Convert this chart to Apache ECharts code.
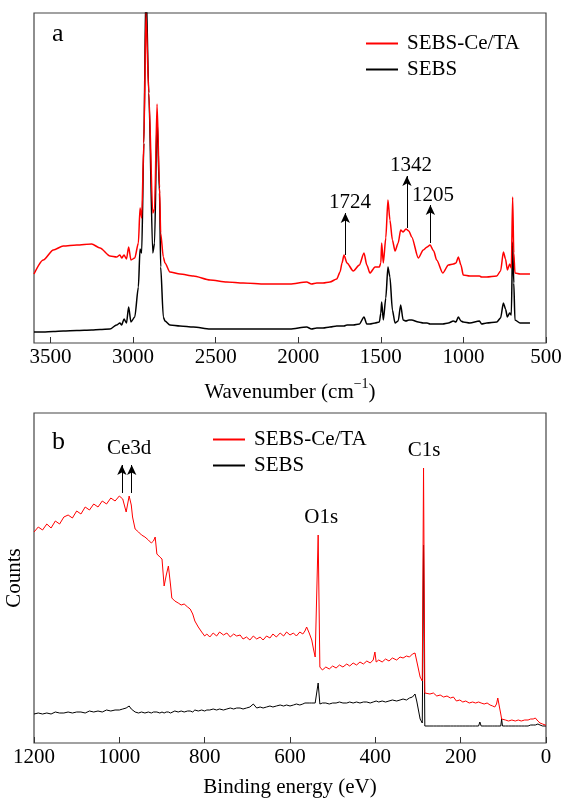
<!DOCTYPE html>
<html>
<head>
<meta charset="utf-8">
<script src="https://cdn.jsdelivr.net/npm/echarts@6/dist/echarts.min.js"></script>
<style>
  html, body { margin: 0; padding: 0; background: #fff; }
  #chart { width: 561px; height: 798px; }
</style>
</head>
<body>
<div id="chart"></div>
<script>
// ---- (a) FTIR, wavenumber grid shared by both curves (arbitrary absorbance units)
var ftirWn = [
  3600, 3544, 3483, 3423, 3341, 3251, 3200, 3140, 3100, 3080,
  3069, 3055, 3040, 3027, 3013, 2990, 2968, 2958, 2948, 2935,
  2922, 2905, 2881, 2870, 2855, 2840, 2833, 2817, 2807, 2777,
  2716, 2635, 2534, 2433, 2333, 2200, 2050, 1949, 1920, 1888,
  1850, 1808, 1767, 1747, 1735, 1723, 1705, 1667, 1630, 1602,
  1585, 1566, 1535, 1509, 1500, 1495, 1485, 1470, 1457, 1445,
  1430, 1414, 1395, 1380, 1365, 1348, 1330, 1313, 1273, 1243,
  1220, 1202, 1180, 1162, 1125, 1091, 1061, 1045, 1031, 1015,
  1001, 961, 903, 890, 859, 798, 775, 758, 745, 734,
  720, 710, 702, 695, 688, 657, 597
]
var ftirCeTA = [
  69, 83, 93, 97, 98, 99, 95, 87, 86, 88,
  85, 88, 84, 96, 83, 85, 100, 135, 125, 200,
  330, 250, 130, 134, 239, 156, 110, 86, 80, 71,
  69, 67, 63, 61, 60, 59, 59, 61, 59, 60,
  60, 61, 64, 71, 80, 88, 80, 72, 78, 90,
  78, 70, 76, 76, 80, 100, 80, 105, 143, 123,
  103, 92, 100, 113, 111, 114, 112, 106, 85, 93,
  96, 98, 92, 83, 70, 78, 79, 80, 86, 78,
  68, 67, 67, 66, 66, 67, 72, 91, 84, 73,
  79, 75, 146, 90, 70, 69, 69
]
var ftirSEBS = [
  11, 11, 11.5, 12, 12.5, 13, 13.5, 14, 18, 20,
  18, 24, 20, 36, 21, 26, 56, 94, 90, 200,
  360, 250, 90, 100, 225, 150, 76, 26, 22, 18,
  17, 16, 14, 14, 14, 14, 14, 16, 14, 15,
  15, 16, 17, 17, 17, 17, 18, 18, 19, 26,
  19, 19, 20, 21, 30, 41, 23, 45, 76, 66,
  33, 20, 22, 38, 23, 22, 23, 23, 21, 20,
  20, 19, 19, 19, 19, 20, 22, 21, 26, 22,
  21, 20, 22, 19, 20, 21, 25, 40, 34, 26,
  30, 28, 101, 60, 23, 20, 20
]
// arrows: [wavenumber, from, to]; labels: [text, wavenumber, height]
var ftirArrows = [[1715, 88, 130], [1342, 115, 167], [1200, 100, 138]]
var ftirLabels = [['1724', 1687, 141], ['1342', 1317, 178], ['1205', 1184, 148]]

// ---- (b) XPS survey, binding energy grid shared by both curves
var xpsBE = [
  1200, 1190, 1180, 1170, 1160, 1150, 1140, 1130, 1120, 1110,
  1100, 1090, 1080, 1070, 1060, 1050, 1040, 1030, 1020, 1010,
  1000, 992, 984, 977, 972, 969, 963, 955, 948, 940,
  932, 925, 920, 916, 912, 905, 900, 895, 890, 885,
  880, 877, 870, 862, 855, 848, 840, 834, 828, 823,
  815, 807, 800, 795, 788, 780, 772, 765, 756, 748,
  740, 732, 725, 717, 710, 702, 694, 686, 678, 670,
  663, 655, 647, 640, 632, 623, 615, 608, 600, 592,
  585, 577, 570, 565, 561, 555, 549, 545, 541, 537,
  534, 530, 524, 516, 508, 500, 492, 484, 476, 467,
  460, 452, 444, 436, 428, 420, 412, 405, 401, 398,
  392, 384, 376, 368, 360, 350, 342, 335, 327, 320,
  313, 307, 303, 299, 295, 290, 287, 284, 280, 272,
  264, 256, 248, 240, 232, 224, 217, 210, 202, 195,
  188, 180, 172, 165, 158, 155, 152, 145, 138, 131,
  125, 120, 116, 113, 110, 106, 104, 102, 95, 88,
  80, 72, 65, 58, 50, 42, 36, 30, 25, 22,
  19, 14, 8, 2, 0
]
var xpsCeTA = [
  211, 216, 213, 219, 215, 222, 219, 226, 228, 225,
  232, 229, 236, 233, 239, 236, 242, 239, 245, 242,
  247, 244, 231, 247, 238, 226, 214, 211, 208, 206,
  203, 200, 202, 206, 189, 186, 184, 157, 168, 177,
  158, 145, 142, 140, 138, 139, 136, 134, 129, 122,
  116, 111, 107, 109, 106, 110, 107, 111, 108, 110,
  106, 109, 107, 108, 104, 106, 103, 107, 104, 106,
  103, 107, 105, 109, 106, 110, 107, 111, 108, 110,
  107, 111, 109, 112, 116, 110, 103, 94, 86, 84,
  208, 76, 73, 76, 74, 77, 75, 78, 76, 79,
  77, 80, 78, 81, 79, 82, 80, 83, 91, 81,
  83, 81, 84, 82, 85, 83, 86, 85, 87, 86,
  89, 90, 82, 74, 66, 62, 275, 50, 51, 49,
  50, 47, 48, 46, 47, 45, 46, 42, 43, 41,
  42, 40, 41, 40, 41, 39, 40, 39, 40, 38,
  37, 36, 39, 45, 38, 29, 24, 23, 23, 22,
  23, 22, 23, 22, 23, 23, 24, 24, 25, 26,
  22, 20, 19, 18, 18
]
var xpsSEBS = [
  29, 30, 29, 30, 29, 31, 30, 30, 31, 30,
  31, 31, 30, 32, 31, 32, 31, 33, 32, 33,
  33, 34, 35, 37, 34, 32, 31, 30, 31, 30,
  31, 30, 31, 30, 31, 30, 31, 30, 31, 31,
  30, 31, 32, 31, 32, 31, 32, 32, 31, 33,
  32, 33, 32, 33, 33, 34, 33, 34, 33, 34,
  35, 34, 35, 35, 34, 35, 36, 39, 35, 36,
  35, 36, 37, 36, 37, 38, 37, 38, 37, 38,
  39, 38, 39, 40, 39, 40, 40, 39, 40, 39,
  60, 39, 40, 40, 39, 40, 40, 41, 40, 40,
  41, 40, 41, 40, 41, 41, 40, 41, 41, 42,
  41, 42, 41, 42, 43, 42, 43, 44, 43, 45,
  46, 49, 42, 33, 24, 20, 198, 17, 17, 17,
  17, 17, 17, 17, 17, 17, 17, 17, 17, 17,
  17, 17, 17, 17, 17, 21, 17, 17, 17, 17,
  17, 17, 17, 17, 17, 17, 24, 17, 17, 17,
  17, 17, 17, 17, 17, 17, 18, 18, 18, 18,
  19, 18, 17, 17, 17
]
var xpsArrows = [[994, 250, 278], [971, 250, 278]]
var xpsLabels = [['Ce3d', 977, 295], ['O1s', 527, 226], ['C1s', 286, 293]]

var serif = '"Liberation Serif", "Times New Roman", serif'
var fs = 21

function pairs (xs, ys) {
  return xs.map(function (x, i) { return [x, ys[i]] })
}
function arrowLines (list) {
  return list.map(function (a) {
    return [{ coord: [a[0], a[1]] }, { coord: [a[0], a[2]] }]
  })
}
function textPoints (list) {
  return list.map(function (t) {
    return { name: t[0], coord: [t[1], t[2]] }
  })
}
var markLineStyle = {
  silent: true,
  symbol: ['none', 'arrow'],
  symbolSize: [7, 10],
  label: { show: false },
  lineStyle: { color: '#000', width: 1, type: 'solid' },
  itemStyle: { color: '#000' },
  emphasis: { disabled: true }
}
var markPointStyle = {
  silent: true,
  symbol: 'rect',
  symbolSize: 1,
  itemStyle: { color: 'rgba(0,0,0,0)' },
  label: { show: true, position: 'inside', formatter: '{b}', color: '#000', fontSize: fs, fontFamily: serif }
}

var axisCommon = {
  type: 'value',
  inverse: true,
  nameLocation: 'middle',
  nameGap: 34,
  axisLine: { show: false },
  axisTick: { inside: true, length: 6, lineStyle: { color: '#333', width: 1 } },
  splitLine: { show: false }
}
var plainNumber = function (v) { return String(v) }
var legendCommon = {
  data: ['SEBS-Ce/TA', 'SEBS'], orient: 'vertical',
  icon: 'rect', itemWidth: 32, itemHeight: 2, itemGap: 5,
  textStyle: { fontFamily: serif, fontSize: fs, color: '#000', padding: [0, 0, 0, 4] }
}

var chart = echarts.init(document.getElementById('chart'))
chart.setOption({
  animation: false,
  backgroundColor: '#fff',
  title: [
    { text: 'a', left: 47, top: 16, textStyle: { fontFamily: serif, fontSize: 26, fontWeight: 'normal', color: '#000' } },
    { text: 'b', left: 47, top: 424, textStyle: { fontFamily: serif, fontSize: 26, fontWeight: 'normal', color: '#000' } }
  ],
  grid: [
    { left: 34, right: 15, top: 13, height: 330, show: true, borderColor: '#444', borderWidth: 1.2, outerBoundsMode: 'none' },
    { left: 34, right: 15, top: 413, height: 330, show: true, borderColor: '#444', borderWidth: 1.2, outerBoundsMode: 'none' }
  ],
  legend: [
    Object.assign({}, legendCommon, { left: 361, top: 28 }),
    Object.assign({}, legendCommon, { left: 208, top: 424 })
  ],
  xAxis: [
    Object.assign({}, axisCommon, {
      gridIndex: 0, min: 500, max: 3600, interval: 500,
      name: '{a|Wavenumber (cm}{s|−1}{a|)}',
      nameTextStyle: {
        rich: {
          a: { fontFamily: serif, fontSize: fs, color: '#000', lineHeight: 26, verticalAlign: 'bottom' },
          s: { fontFamily: serif, fontSize: 14, color: '#000', lineHeight: 26, verticalAlign: 'top' }
        }
      },
      axisLabel: { showMaxLabel: false, margin: 4, fontFamily: serif, fontSize: fs, color: '#000', formatter: plainNumber }
    }),
    Object.assign({}, axisCommon, {
      gridIndex: 1, min: 0, max: 1200, interval: 200,
      name: 'Binding energy (eV)',
      nameTextStyle: { fontFamily: serif, fontSize: fs, color: '#000' },
      axisLabel: { margin: 4, fontFamily: serif, fontSize: fs, color: '#000', formatter: plainNumber }
    })
  ],
  yAxis: [
    {
      gridIndex: 0, type: 'value', min: 0, max: 330,
      axisLine: { show: false }, axisTick: { show: false }, axisLabel: { show: false }, splitLine: { show: false }
    },
    {
      gridIndex: 1, type: 'value', min: 0, max: 330,
      name: 'Counts', nameLocation: 'middle', nameGap: 9,
      nameTextStyle: { fontFamily: serif, fontSize: fs, color: '#000' },
      axisLine: { show: false }, axisTick: { show: false }, axisLabel: { show: false }, splitLine: { show: false }
    }
  ],
  series: [
    {
      name: 'SEBS', type: 'line', xAxisIndex: 0, yAxisIndex: 0,
      data: pairs(ftirWn, ftirSEBS), symbol: 'none', smooth: 0.25, smoothMonotone: 'x',
      lineStyle: { color: '#000', width: 1.5 }, itemStyle: { color: '#000' }
    },
    {
      name: 'SEBS-Ce/TA', type: 'line', xAxisIndex: 0, yAxisIndex: 0,
      data: pairs(ftirWn, ftirCeTA), symbol: 'none', smooth: 0.25, smoothMonotone: 'x',
      lineStyle: { color: '#ff0000', width: 1.5 }, itemStyle: { color: '#ff0000' },
      markLine: Object.assign({ data: arrowLines(ftirArrows) }, markLineStyle),
      markPoint: Object.assign({ data: textPoints(ftirLabels) }, markPointStyle)
    },
    {
      name: 'SEBS', type: 'line', xAxisIndex: 1, yAxisIndex: 1,
      data: pairs(xpsBE, xpsSEBS), symbol: 'none',
      lineStyle: { color: '#000', width: 1 }, itemStyle: { color: '#000' }
    },
    {
      name: 'SEBS-Ce/TA', type: 'line', xAxisIndex: 1, yAxisIndex: 1,
      data: pairs(xpsBE, xpsCeTA), symbol: 'none',
      lineStyle: { color: '#ff0000', width: 1 }, itemStyle: { color: '#ff0000' },
      markLine: Object.assign({ data: arrowLines(xpsArrows) }, markLineStyle),
      markPoint: Object.assign({ data: textPoints(xpsLabels) }, markPointStyle)
    }
  ]
})
</script>
</body>
</html>
